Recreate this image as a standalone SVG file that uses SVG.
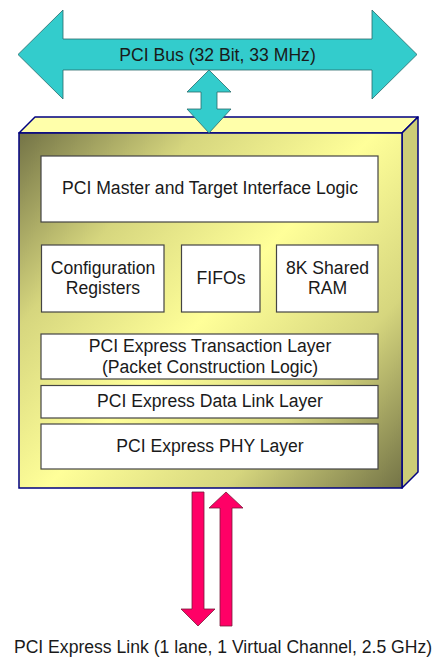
<svg xmlns="http://www.w3.org/2000/svg" width="440" height="658" viewBox="0 0 440 658">
<style>
text{font-family:"Liberation Sans",Arial,sans-serif;font-size:17.6px;fill:#1a1a1a;text-anchor:middle}
.blk{fill:#ffffff;stroke:#444444;stroke-width:1.2}
.cyan{fill:#33cccc;stroke:#2a6b6b;stroke-width:0.8}
.red{fill:#ff0066;stroke:#7a1a3a;stroke-width:0.8}
</style>
<defs>
<linearGradient id="face" gradientUnits="userSpaceOnUse" x1="19" y1="133" x2="402" y2="488">
<stop offset="0" stop-color="#737346"/>
<stop offset="0.25" stop-color="#d6d67e"/>
<stop offset="0.5" stop-color="#ffff99"/>
<stop offset="0.75" stop-color="#d6d67e"/>
<stop offset="1" stop-color="#737346"/>
</linearGradient>
</defs>
<g id="pci-bus">
<polygon class="cyan" points="18,54.5 63,10 63,39 372,39 372,10 417,54.5 372,99 372,70 63,70 63,99"/>
<text x="217.5" y="61">PCI Bus (32 Bit, 33 MHz)</text>
</g>
<g id="bridge-chip">
<polygon points="19,133 35,117 418,117 402,133" fill="#ffffaa" stroke="#000080" stroke-width="1.5" stroke-linejoin="round"/>
<polygon points="402,133 418,117 418,472 402,488" fill="#cccc77" stroke="#000080" stroke-width="1.5" stroke-linejoin="round"/>
<rect x="19" y="133" width="383" height="355" fill="url(#face)" stroke="#000080" stroke-width="1.5"/>
</g>
<g id="pci-master">
<rect class="blk" x="41" y="156" width="337" height="66"/>
<text x="210" y="194">PCI Master and Target Interface Logic</text>
</g>
<g id="config-registers">
<rect class="blk" x="41.5" y="245" width="122.5" height="67"/>
<text x="103" y="274">Configuration</text>
<text x="103" y="294">Registers</text>
</g>
<g id="fifos">
<rect class="blk" x="181.5" y="245" width="78.5" height="67"/>
<text x="221" y="284">FIFOs</text>
</g>
<g id="shared-ram">
<rect class="blk" x="276.5" y="245" width="101.5" height="67"/>
<text x="327.5" y="274">8K Shared</text>
<text x="327.5" y="294">RAM</text>
</g>
<g id="transaction-layer">
<rect class="blk" x="41" y="334" width="337" height="45"/>
<text x="210" y="352">PCI Express Transaction Layer</text>
<text x="210" y="373">(Packet Construction Logic)</text>
</g>
<g id="data-link-layer">
<rect class="blk" x="41" y="385.5" width="337" height="32.5"/>
<text x="210" y="407">PCI Express Data Link Layer</text>
</g>
<g id="phy-layer">
<rect class="blk" x="41" y="424" width="337" height="45"/>
<text x="210" y="452">PCI Express PHY Layer</text>
</g>
<g id="connectors">
<polygon class="cyan" points="209,70 231,92 217,92 217,109 231,109 209,133 187,109 201,109 201,92 187,92"/>
<polygon class="red" points="192,492 204,492 204,609 215,609 198,626 181,609 192,609"/>
<polygon class="red" points="226,492 243,508 232,508 232,626 220,626 220,508 209,508"/>
</g>
<g id="pcie-link">
<text x="223" y="653">PCI Express Link (1 lane, 1 Virtual Channel, 2.5 GHz)</text>
</g>
</svg>
